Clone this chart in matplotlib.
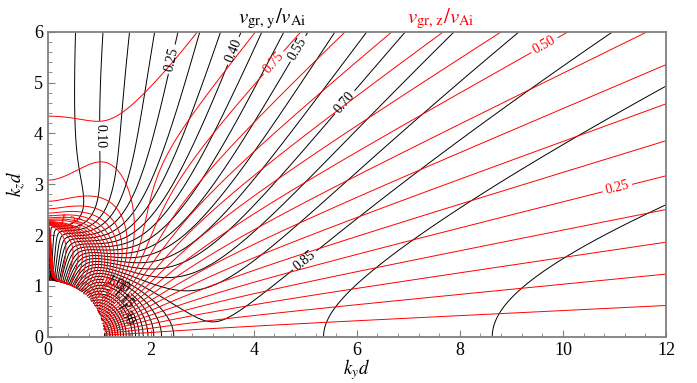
import numpy as np
import matplotlib
matplotlib.use('Agg')
import matplotlib.pyplot as plt

plt.rcParams['font.family'] = 'serif'
plt.rcParams['font.serif'] = ['Liberation Serif', 'DejaVu Serif']
plt.rcParams['mathtext.fontset'] = 'stix'

# slab: v_Ae / v_Ai, lengths in units of d
ratio = 1.744

# contour levels and labelled values
levels = np.round(np.arange(0.05, 2.0001, 0.05), 2)
lab_y = [0.10, 0.25, 0.40, 0.55, 0.70, 0.85, 1.00, 1.15, 1.30]
pos_y = [(1.06, 3.95), (2.45, 5.45), (3.57, 5.64), (4.8, 5.7), (5.71, 4.66),
         (4.96, 1.54), (1.37, 1.02), (1.44, 0.72), (1.56, 0.46)]
lab_z = [0.25, 0.50, 0.75, 1.00, 1.25]
pos_z = [(11.05, 2.95), (9.6, 5.81), (4.32, 5.45), (1.17, 0.97), (0.43, 2.19)]


def disp(n, ky, kz):
    # kink mode of the cold slab, n = internal transverse wavenumber
    K2 = (ky**2 + kz**2) * (ratio**2 - 1)
    ke = np.sqrt(np.maximum(K2 - n**2, 0)) / ratio
    return n * np.cos(n) * (ky**2 - ke**2) + ke * np.sin(n) * (ky**2 + n**2)


ky = np.linspace(0, 12, 1201)
kz = np.linspace(0, 6, 601)
KY, KZ = np.meshgrid(ky, kz)
K = np.sqrt(KY**2 + KZ**2) * np.sqrt(ratio**2 - 1)
ok = K > np.pi / 2 + 1e-6

# bisection for n in (pi/2, min(K, 3pi/2))
lo = np.full(KY.shape, np.pi / 2)
hi = np.minimum(K, 1.5 * np.pi)
hi[~ok] = np.pi / 2 + 1e-3
flo = disp(lo, KY, KZ)
for _ in range(60):
    mid = 0.5 * (lo + hi)
    fm = disp(mid, KY, KZ)
    same = np.sign(fm) == np.sign(flo)
    lo = np.where(same, mid, lo)
    flo = np.where(same, fm, flo)
    hi = np.where(same, hi, mid)
n = 0.5 * (lo + hi)
w = np.sqrt(KY**2 + KZ**2 + n**2)

# group velocity by implicit differentiation
h = 1e-6
with np.errstate(divide='ignore', invalid='ignore'):
    dn = (disp(n + h, KY, KZ) - disp(n - h, KY, KZ)) / (2 * h)
    dky = (disp(n, KY + h, KZ) - disp(n, KY - h, KZ)) / (2 * h)
    dkz = (disp(n, KY, KZ + h) - disp(n, KY, KZ - h)) / (2 * h)
    vy = (KY - n * dky / dn) / w
    vz = (KZ - n * dkz / dn) / w
vy[~ok] = np.nan
vz[~ok] = np.nan

fig = plt.figure(figsize=(6.97, 3.83), dpi=100)
ax = fig.add_axes([0.0684, 0.1209, 0.8871, 0.7963])


def draw(field, color, labs, pos):
    rest = [l for l in levels if min(abs(l - x) for x in labs) > 1e-6]
    ax.contour(KY, KZ, field, levels=rest, colors=color, linewidths=0.7)
    for lev, p in zip(labs, pos):
        c = ax.contour(KY, KZ, field, levels=[lev], colors=color, linewidths=0.7)
        ax.clabel(c, manual=[p], fmt='%.2f', fontsize=10, inline_spacing=3)


draw(vy, 'k', lab_y, pos_y)
draw(vz, '#ff0000', lab_z, pos_z)

ax.set_xlim(0, 12)
ax.set_ylim(0, 6)
ax.set_xticks(np.arange(0, 13, 2))
ax.set_xticks(np.arange(0, 12.01, 0.4), minor=True)
ax.set_yticks(np.arange(0, 7, 1))
ax.set_yticks(np.arange(0, 6.01, 0.2), minor=True)
ax.tick_params(which='both', direction='in', color='#808080', top=False, right=False,
               labelsize=13)
ax.tick_params(which='major', length=5, width=0.8)
ax.tick_params(which='minor', length=3, width=0.6)
for s in ax.spines.values():
    s.set_color('#808080')
    s.set_linewidth(1.3)

ax.set_xlabel(r'$k_y d$', fontsize=13.5, labelpad=-1)
ax.set_ylabel(r'$k_z d$', fontsize=13.5, labelpad=4)
fig.text(0.39, 0.94, r'$v_{\rm gr,\,y}/v_{\rm Ai}$', fontsize=15, ha='center', va='baseline')
fig.text(0.633, 0.94, r'$v_{\rm gr,\,z}/v_{\rm Ai}$', fontsize=15, ha='center',
         va='baseline', color='#ff0000')

fig.savefig('out.png', dpi=100)
